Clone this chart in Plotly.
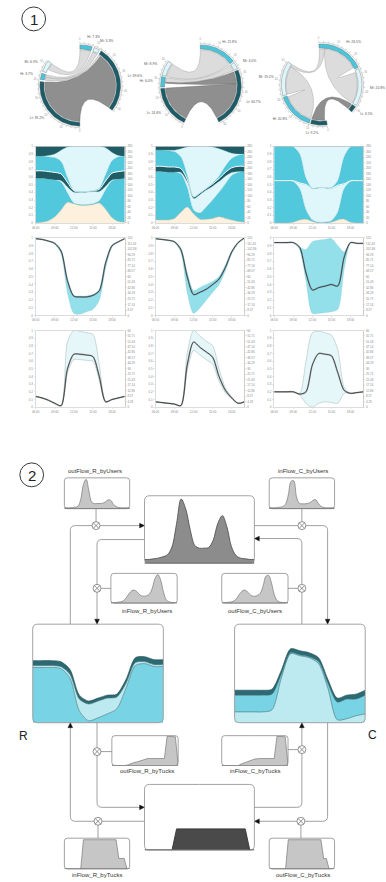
import math
import plotly.graph_objects as go

W, H = 386, 882

# ======================= DATA =======================
hours = list(range(6, 21))
hour_ticks = [6, 9, 12, 15, 18]
hour_labels = ["06:00", "09:00", "12:00", "15:00", "18:00"]

# ---- chord diagrams (segment shares in %) ----
seg_names = ["Hi", "Mi", "Lt", "Lt", "Hi", "Mi"]
chord1_values = [7.3, 3.3, 39.6, 39.2, 3.7, 6.9]
chord2_values = [21.8, 4.0, 34.7, 24.6, 6.0, 8.9]
chord3_values = [26.5, 20.8, 3.5, 9.2, 20.8, 19.2]
# flows: (source segment, target segment, share at source, share at target)
chord1_flows = [(0, 5, 7.3, 4.5), (1, 4, 3.3, 1.8), (2, 4, 1.5, 1.9), (2, 3, 38.1, 39.2)]
chord1_kinds = ["light", "light", "light", "dark"]
chord2_flows = [(0, 5, 21.8, 8.9), (1, 4, 4.0, 3.0), (2, 4, 8.0, 0.6), (2, 3, 26.7, 24.6)]
chord2_kinds = ["light", "light", "dark", "dark"]
chord3_flows = [(0, 5, 3.5, 1.6), (0, 1, 22.0, 19.5), (4, 5, 20.0, 17.4), (2, 3, 3.5, 8.0)]
chord3_kinds = ["light", "light", "light", "dark"]

# ---- stacked share panels ----
st1_peach = [0.00, 0.01, 0.03, 0.08, 0.17, 0.27, 0.25, 0.23, 0.23, 0.24, 0.26, 0.18, 0.07, 0.02, 0.01]
st1_tealA = [0.58, 0.57, 0.54, 0.48, 0.36, 0.12, 0.01, 0.01, 0.01, 0.01, 0.03, 0.25, 0.48, 0.55, 0.57]
st1_lightA = [0.00, 0.00, 0.00, 0.00, 0.02, 0.08, 0.14, 0.16, 0.16, 0.16, 0.12, 0.05, 0.01, 0.00, 0.00]
st1_darkA = [0.10, 0.10, 0.10, 0.10, 0.09, 0.06, 0.02, 0.01, 0.01, 0.01, 0.03, 0.07, 0.09, 0.10, 0.10]
st1_tealB = [0.19, 0.19, 0.19, 0.19, 0.16, 0.06, 0.00, 0.00, 0.00, 0.00, 0.01, 0.08, 0.16, 0.19, 0.19]
st1_lightB = [0.00, 0.00, 0.02, 0.05, 0.15, 0.40, 0.58, 0.59, 0.59, 0.58, 0.55, 0.35, 0.11, 0.02, 0.00]
st1_darkB = [0.13, 0.13, 0.12, 0.10, 0.05, 0.01, 0.00, 0.00, 0.00, 0.00, 0.00, 0.02, 0.08, 0.12, 0.13]

st2_peach = [0.04, 0.04, 0.04, 0.06, 0.14, 0.21, 0.12, 0.05, 0.05, 0.06, 0.08, 0.06, 0.04, 0.02, 0.01]
st2_tealA = [0.63, 0.63, 0.62, 0.60, 0.50, 0.25, 0.05, 0.08, 0.16, 0.24, 0.32, 0.45, 0.58, 0.64, 0.66]
st2_lightA = [0.00, 0.00, 0.00, 0.00, 0.02, 0.08, 0.15, 0.24, 0.22, 0.18, 0.14, 0.10, 0.04, 0.01, 0.00]
st2_darkA = [0.07, 0.07, 0.07, 0.07, 0.05, 0.03, 0.02, 0.02, 0.02, 0.03, 0.04, 0.05, 0.06, 0.07, 0.07]
st2_tealB = [0.21, 0.21, 0.21, 0.20, 0.15, 0.05, 0.00, 0.00, 0.00, 0.01, 0.03, 0.08, 0.12, 0.14, 0.16]
st2_lightB = [0.00, 0.00, 0.01, 0.02, 0.11, 0.37, 0.66, 0.61, 0.55, 0.47, 0.36, 0.20, 0.07, 0.02, 0.00]
st2_darkB = [0.05, 0.05, 0.05, 0.05, 0.03, 0.01, 0.00, 0.00, 0.00, 0.01, 0.03, 0.06, 0.09, 0.10, 0.10]

st3_peach = [0.00, 0.00, 0.00, 0.01, 0.04, 0.05, 0.02, 0.00, 0.00, 0.01, 0.04, 0.05, 0.01, 0.00, 0.00]
st3_tealA = [0.55, 0.55, 0.55, 0.53, 0.41, 0.12, 0.02, 0.01, 0.01, 0.02, 0.10, 0.40, 0.53, 0.55, 0.55]
st3_lightA = [0.00, 0.00, 0.00, 0.01, 0.07, 0.33, 0.41, 0.45, 0.45, 0.42, 0.35, 0.06, 0.01, 0.00, 0.00]
st3_darkA = [0.005, 0.005, 0.005, 0.005, 0.005, 0.005, 0.005, 0.005, 0.005, 0.005, 0.005, 0.005, 0.005, 0.005, 0.005]
st3_tealB = [0.45, 0.45, 0.45, 0.44, 0.38, 0.08, 0.00, 0.00, 0.00, 0.01, 0.06, 0.35, 0.44, 0.45, 0.45]
st3_lightB = [0.00, 0.00, 0.00, 0.01, 0.10, 0.42, 0.55, 0.54, 0.54, 0.54, 0.45, 0.14, 0.01, 0.00, 0.00]
st3_darkB = [0.00, 0.00, 0.00, 0.00, 0.00, 0.00, 0.00, 0.00, 0.00, 0.00, 0.00, 0.00, 0.00, 0.00, 0.00]

# ---- speed-like line panels (row 3) ----
a1_mean = [0.99, 0.98, 0.96, 0.93, 0.83, 0.45, 0.25, 0.24, 0.24, 0.26, 0.32, 0.68, 0.90, 0.95, 0.99]
a1_low = [0.99, 0.98, 0.96, 0.92, 0.80, 0.30, 0.03, 0.02, 0.05, 0.08, 0.20, 0.62, 0.88, 0.95, 0.99]
a1_up = [0.99, 0.98, 0.96, 0.93, 0.84, 0.46, 0.26, 0.25, 0.25, 0.27, 0.33, 0.69, 0.90, 0.95, 0.99]
a2_mean = [0.99, 0.98, 0.97, 0.95, 0.85, 0.50, 0.27, 0.30, 0.34, 0.40, 0.47, 0.62, 0.82, 0.94, 1.00]
a2_low = [0.99, 0.98, 0.97, 0.94, 0.82, 0.30, 0.03, 0.10, 0.20, 0.30, 0.40, 0.58, 0.80, 0.93, 1.00]
a2_up = [0.99, 0.98, 0.97, 0.95, 0.86, 0.55, 0.32, 0.36, 0.40, 0.44, 0.50, 0.65, 0.83, 0.94, 1.00]
a3_mean = [0.94, 0.94, 0.94, 0.94, 0.88, 0.55, 0.33, 0.36, 0.38, 0.40, 0.38, 0.75, 0.94, 0.93, 0.93]
a3_low = [0.94, 0.94, 0.94, 0.94, 0.85, 0.45, 0.03, 0.03, 0.04, 0.05, 0.08, 0.60, 0.93, 0.93, 0.93]
a3_up = [0.94, 0.94, 0.94, 0.94, 0.88, 0.85, 0.95, 0.97, 0.98, 0.99, 0.90, 0.82, 0.94, 0.93, 0.93]

# ---- density-like line panels (row 4) ----
b1_mean = [0.14, 0.12, 0.09, 0.05, 0.02, 0.50, 0.69, 0.69, 0.68, 0.66, 0.40, 0.07, 0.10, 0.12, 0.14]
b1_low = [0.14, 0.12, 0.09, 0.05, 0.02, 0.45, 0.62, 0.62, 0.61, 0.60, 0.35, 0.06, 0.10, 0.12, 0.14]
b1_up = [0.14, 0.12, 0.09, 0.05, 0.02, 0.85, 1.00, 0.99, 0.97, 0.95, 0.55, 0.08, 0.10, 0.12, 0.14]
b2_mean = [0.07, 0.06, 0.05, 0.04, 0.02, 0.55, 0.85, 0.78, 0.72, 0.65, 0.40, 0.22, 0.12, 0.05, 0.07]
b2_low = [0.07, 0.06, 0.05, 0.04, 0.02, 0.48, 0.74, 0.68, 0.62, 0.56, 0.34, 0.19, 0.11, 0.05, 0.07]
b2_up = [0.07, 0.06, 0.05, 0.04, 0.02, 0.70, 1.00, 0.93, 0.86, 0.80, 0.50, 0.25, 0.13, 0.05, 0.07]
b3_mean = [0.20, 0.20, 0.20, 0.20, 0.17, 0.20, 0.55, 0.70, 0.69, 0.67, 0.45, 0.22, 0.18, 0.19, 0.20]
b3_low = [0.20, 0.20, 0.20, 0.20, 0.16, 0.05, 0.00, 0.05, 0.07, 0.06, 0.05, 0.18, 0.18, 0.19, 0.20]
b3_up = [0.20, 0.20, 0.20, 0.20, 0.18, 0.60, 0.97, 0.99, 0.97, 0.94, 0.75, 0.26, 0.18, 0.19, 0.20]

# ---- section 2: region composition ----
R_teal = [0.56, 0.56, 0.56, 0.55, 0.45, 0.12, 0.02, 0.05, 0.09, 0.14, 0.35, 0.58, 0.60, 0.57, 0.57]
R_light = [0.02, 0.02, 0.02, 0.02, 0.04, 0.12, 0.17, 0.17, 0.16, 0.12, 0.05, 0.03, 0.02, 0.02, 0.02]
R_dark = [0.05, 0.05, 0.05, 0.05, 0.05, 0.04, 0.03, 0.03, 0.03, 0.03, 0.04, 0.05, 0.05, 0.05, 0.05]
C_light = [0.11, 0.11, 0.11, 0.11, 0.13, 0.45, 0.70, 0.68, 0.66, 0.60, 0.35, 0.03, 0.04, 0.07, 0.09]
C_teal = [0.17, 0.17, 0.17, 0.17, 0.16, 0.04, 0.01, 0.01, 0.01, 0.02, 0.05, 0.18, 0.20, 0.17, 0.19]
C_dark = [0.05, 0.05, 0.05, 0.05, 0.05, 0.04, 0.04, 0.04, 0.04, 0.04, 0.04, 0.04, 0.04, 0.05, 0.05]

# ---- section 2: flows over the day ----
day_hours = list(range(25))
users_total = [0.06, 0.06, 0.07, 0.08, 0.10, 0.13, 0.25, 0.60, 0.97, 0.82, 0.50, 0.27, 0.23, 0.23, 0.24, 0.35, 0.60, 0.72, 0.55, 0.25, 0.12, 0.08, 0.07, 0.06, 0.06]
out_R_users = [0.03, 0.03, 0.03, 0.04, 0.05, 0.08, 0.30, 0.80, 0.97, 0.60, 0.22, 0.17, 0.17, 0.17, 0.18, 0.22, 0.29, 0.28, 0.15, 0.07, 0.04, 0.03, 0.03, 0.03, 0.03]
in_C_users = [0.03, 0.03, 0.03, 0.04, 0.05, 0.07, 0.15, 0.45, 0.90, 0.92, 0.40, 0.18, 0.16, 0.16, 0.17, 0.20, 0.27, 0.30, 0.18, 0.08, 0.04, 0.03, 0.03, 0.03, 0.03]
in_R_users = [0.02, 0.02, 0.03, 0.04, 0.06, 0.12, 0.25, 0.38, 0.45, 0.43, 0.33, 0.26, 0.24, 0.26, 0.32, 0.52, 0.85, 0.98, 0.80, 0.40, 0.12, 0.05, 0.03, 0.02, 0.02]
out_C_users = [0.02, 0.02, 0.03, 0.04, 0.06, 0.12, 0.25, 0.38, 0.45, 0.42, 0.32, 0.25, 0.24, 0.27, 0.35, 0.60, 0.92, 0.95, 0.70, 0.30, 0.10, 0.04, 0.03, 0.02, 0.02]
tucks_total = [0, 0, 0, 0, 0, 0, 0, 0.33, 0.33, 0.33, 0.33, 0.33, 0.33, 0.33, 0.33, 0.33, 0.33, 0.33, 0.33, 0.33, 0.33, 0.33, 0.33, 0, 0]
out_R_tucks = [0, 0, 0, 0, 0, 0, 0.03, 0.07, 0.10, 0.12, 0.15, 0.18, 0.22, 0.24, 0.24, 0.24, 0.24, 0.24, 0.24, 0.24, 1.0, 1.0, 1.0, 0.98, 0]
in_C_tucks = [0, 0, 0, 0, 0, 0, 0, 0.05, 0.09, 0.12, 0.15, 0.19, 0.22, 0.24, 0.24, 0.24, 0.24, 0.24, 0.24, 0.24, 1.0, 1.0, 1.0, 0.98, 0]
in_R_tucks = [0, 0, 0, 0, 0, 0, 0, 0.97, 0.97, 0.97, 0.97, 0.97, 0.97, 0.97, 0.97, 0.97, 0.97, 0.97, 0.97, 0.97, 0.35, 0.35, 0.35, 0, 0]
out_C_tucks = [0, 0, 0, 0, 0, 0, 0, 0.97, 0.97, 0.97, 0.97, 0.97, 0.97, 0.97, 0.97, 0.97, 0.97, 0.97, 0.97, 0.97, 0.35, 0.35, 0, 0, 0]

# ======================= FIGURE =======================
fig = go.Figure()
layout = dict(width=W, height=H, margin=dict(l=0, r=0, t=0, b=0), paper_bgcolor="white",
              plot_bgcolor="rgba(0,0,0,0)", showlegend=False)
shapes, annotations = [], []
counters = {"x": 0, "y": 0}


def _new(kind, lo, hi, rng, opts):
    counters[kind] += 1
    n = counters[kind]
    name = f"{kind}axis" if n == 1 else f"{kind}axis{n}"
    ref = kind if n == 1 else f"{kind}{n}"
    d = dict(domain=[lo, hi], range=rng, showgrid=False, zeroline=False, showticklabels=False,
             ticks="", showline=False, fixedrange=True)
    d.update(opts)
    layout[name] = d
    return ref, name


def axes(x0, y0, x1, y1, xr, yr, xo=None, yo=None):
    xref, xname = _new("x", x0 / W, x1 / W, xr, xo or {})
    yref, yname = _new("y", 1 - y1 / H, 1 - y0 / H, yr, yo or {})
    layout[xname]["anchor"] = yref
    layout[yname]["anchor"] = xref
    return xref, yref


def X(x):
    return x / W


def Y(y):
    return 1 - y / H


# ---------------- chord diagrams ----------------
R_OUT, R_SEG, R_IN = 1.0, 0.9, 0.88
SEG_COL = {"Hi": "#4dc4d9", "Mi": "#def5fa", "Lt": "#1d5c66"}
RIB_COL = {"light": ("#dcdcdc", "#9a9a9a"), "dark": ("#8f8f8f", "#666666")}


def pol(r, deg):
    t = math.radians(deg)
    return (r * math.sin(t), r * math.cos(t))


def arc(r, a0, a1):
    n = max(2, int(abs(a1 - a0) / 1.5) + 2)
    return [pol(r, a0 + (a1 - a0) * i / (n - 1)) for i in range(n)]


def bez(p0, p2, n=40):
    out = []
    for i in range(n):
        t = i / (n - 1)
        out.append(((1 - t) ** 2 * p0[0] + t * t * p2[0], (1 - t) ** 2 * p0[1] + t * t * p2[1]))
    return out


def poly_trace(pts, xr, yr, fill, line, width=0.4):
    return go.Scatter(x=[p[0] for p in pts] + [pts[0][0]], y=[p[1] for p in pts] + [pts[0][1]],
                      xaxis=xr, yaxis=yr, mode="lines", fill="toself", fillcolor=fill,
                      line=dict(color=line, width=width), hoverinfo="skip")


def chord(cx, cy, values, flows, kinds, start, gap_c, gap_f, pad):
    half = 58
    xr, yr = axes(cx - half, cy - half, cx + half, cy + half, [-1.42, 1.42], [-1.42, 1.42])
    avail = 360 - gap_c - gap_f - 4 * pad
    k = avail / sum(values)
    spans, a = [], start
    for i, v in enumerate(values):
        spans.append((a, a + v * k))
        a = a + v * k + (gap_c if i == 2 else gap_f if i == 5 else pad)
    cs = [s[0] for s in spans]
    ce = [s[1] for s in spans]
    for (s, t, vs, vt), kind in zip(flows, kinds):
        s0 = cs[s]; s1 = s0 + vs * k; cs[s] = s1
        t1 = ce[t]; t0 = t1 - vt * k; ce[t] = t0
        pts = (arc(R_IN, s0, s1) + bez(pol(R_IN, s1), pol(R_IN, t0)) +
               arc(R_IN, t0, t1) + bez(pol(R_IN, t1), pol(R_IN, s0)))
        fc, lc = RIB_COL[kind]
        fig.add_trace(poly_trace(pts, xr, yr, fc, lc, 0.4))
    for (a0, a1), nm in zip(spans, seg_names):
        pts = arc(R_OUT, a0, a1) + arc(R_SEG, a1, a0)
        fig.add_trace(poly_trace(pts, xr, yr, SEG_COL[nm], "#5a6a6c", 0.4))
    # outer tick ring
    tx, ty, nx, ny, nt = [], [], [], [], []
    for (h0, h1) in [(spans[0][0], spans[2][1]), (spans[3][0], spans[5][1])]:
        for p in arc(1.035, h0, h1):
            tx.append(p[0]); ty.append(p[1])
        tx.append(None); ty.append(None)
        j = 0
        while h0 + j * 2.5 * k <= h1 + 1e-6:
            ang = h0 + j * 2.5 * k
            p0, p1 = pol(1.035, ang), pol(1.075, ang)
            tx += [p0[0], p1[0], None]; ty += [p0[1], p1[1], None]
            if j % 4 == 0:
                q = pol(1.13, ang)
                nx.append(q[0]); ny.append(q[1]); nt.append(str(int(j * 2.5)))
            j += 1
    fig.add_trace(go.Scatter(x=tx, y=ty, xaxis=xr, yaxis=yr, mode="lines",
                             line=dict(color="#a8a8a8", width=0.5), hoverinfo="skip"))
    fig.add_trace(go.Scatter(x=nx, y=ny, xaxis=xr, yaxis=yr, mode="text", text=nt,
                             textfont=dict(size=2.6, color="#999", family="Liberation Sans"),
                             hoverinfo="skip", cliponaxis=False))
    lx, ly, lt, lp = [], [], [], []
    for (a0, a1), nm, v in zip(spans, seg_names, values):
        q = pol(1.2, (a0 + a1) / 2)
        lx.append(q[0]); ly.append(q[1]); lt.append(f"{nm}: {v:.1f}%")
        lp.append("middle right" if q[0] >= 0 else "middle left")
    fig.add_trace(go.Scatter(x=lx, y=ly, xaxis=xr, yaxis=yr, mode="text", text=lt, textposition=lp,
                             textfont=dict(size=3.4, color="#555", family="Liberation Sans"),
                             hoverinfo="skip", cliponaxis=False))


chord(77, 84, chord1_values, chord1_flows, chord1_kinds, -0.5, 53, 52, 3)
chord(199, 84, chord2_values, chord2_flows, chord2_kinds, -1, 51, 52, 2)
chord(321, 83, chord3_values, chord3_flows, chord3_kinds, -4, 40, 52, 2)

# ---------------- small-multiple panels ----------------
tick_font = dict(size=3, color="#8a8a8a", family="Liberation Sans")
frame = dict(showline=True, linecolor="#c4c4c4", linewidth=0.6, ticks="outside", ticklen=1.5,
             tickwidth=0.4, tickcolor="#c4c4c4", showticklabels=True, tickfont=tick_font)
row_y = [(145, 222), (237, 315), (330, 407)]
col_x = [(32, 122), (153, 243), (273, 363)]
right_ranges = [[0, 280], [0, 120], [0, 60]]


def panel(c, r):
    x0, x1 = col_x[c]
    y0, y1 = row_y[r]
    xo = dict(frame, mirror=True, tickvals=hour_ticks, ticktext=hour_labels)
    yo = dict(frame, mirror=True, dtick=0.1)
    xr, yr = axes(x0, y0, x1, y1, [6, 20], [0, 1], xo, yo)
    rr = right_ranges[r]
    yr2, _ = _new("y", 1 - y1 / H, 1 - y0 / H, rr,
                  dict(frame, overlaying=yr, side="right", anchor=xr, dtick=(rr[1] - rr[0]) / 14))
    fig.add_trace(go.Scatter(x=[hours[0]], y=[rr[0]], xaxis=xr, yaxis=yr2, mode="markers",
                             marker=dict(opacity=0, size=1), hoverinfo="skip"))
    return xr, yr


PEACH, TEAL, LIGHT, DARK = "#fdf0dc", "#52c8dc", "#dff6fb", "#1f5c66"
stack_sets = [
    (st1_peach, st1_tealA, st1_lightA, st1_darkA, st1_tealB, st1_lightB, st1_darkB),
    (st2_peach, st2_tealA, st2_lightA, st2_darkA, st2_tealB, st2_lightB, st2_darkB),
    (st3_peach, st3_tealA, st3_lightA, st3_darkA, st3_tealB, st3_lightB, st3_darkB),
]
layer_styles = [(PEACH, "#c9b89c", 0.4), (TEAL, "#3aa7b8", 0.3), (LIGHT, "#8fcfd9", 0.3),
                (DARK, "#ffffff", 0.9), (TEAL, "#3aa7b8", 0.3), (LIGHT, "#8fcfd9", 0.3),
                (DARK, "#1f5c66", 0.3)]
for c, series in enumerate(stack_sets):
    xr, yr = panel(c, 0)
    for i, (vals, (fc, lc, lw)) in enumerate(zip(series, layer_styles)):
        kw = dict(groupnorm="fraction") if i == 0 else {}
        fig.add_trace(go.Scatter(x=hours, y=vals, xaxis=xr, yaxis=yr, mode="lines",
                                 stackgroup=f"s{c}", fillcolor=fc,
                                 line=dict(color=lc, width=lw, shape="spline", smoothing=0.8),
                                 hoverinfo="skip", **kw))


def band_panel(c, r, low, up, mean, band, band_line):
    xr, yr = panel(c, r)
    fig.add_trace(go.Scatter(x=hours, y=low, xaxis=xr, yaxis=yr, mode="lines",
                             line=dict(color=band_line, width=0.5, shape="spline", smoothing=0.8),
                             hoverinfo="skip"))
    fig.add_trace(go.Scatter(x=hours, y=up, xaxis=xr, yaxis=yr, mode="lines", fill="tonexty",
                             fillcolor=band, line=dict(color=band_line, width=0.5, shape="spline", smoothing=0.8),
                             hoverinfo="skip"))
    fig.add_trace(go.Scatter(x=hours, y=mean, xaxis=xr, yaxis=yr, mode="lines",
                             line=dict(color="rgba(110,110,110,0.35)", width=1.8, shape="spline", smoothing=0.8),
                             hoverinfo="skip"))
    fig.add_trace(go.Scatter(x=hours, y=mean, xaxis=xr, yaxis=yr, mode="lines",
                             line=dict(color="#2a2a2a", width=0.8, shape="spline", smoothing=0.8),
                             hoverinfo="skip"))


band_panel(0, 1, a1_low, a1_up, a1_mean, "#93dfea", "#8fd3dd")
band_panel(1, 1, a2_low, a2_up, a2_mean, "#93dfea", "#8fd3dd")
band_panel(2, 1, a3_low, a3_up, a3_mean, "#93dfea", "#8fd3dd")
band_panel(0, 2, b1_low, b1_up, b1_mean, "#e6f7fa", "#9fb4b8")
band_panel(1, 2, b2_low, b2_up, b2_mean, "#e6f7fa", "#9fb4b8")
band_panel(2, 2, b3_low, b3_up, b3_mean, "#e6f7fa", "#9fb4b8")

# ---------------- section 2 charts ----------------
def region_box(x0, y0, x1, y1, layers):
    xr, yr = axes(x0, y0, x1, y1, [6, 20], [0, 1])
    for i, (vals, fc, lc) in enumerate(layers):
        fig.add_trace(go.Scatter(x=hours, y=vals, xaxis=xr, yaxis=yr, mode="lines",
                                 stackgroup=f"r{x0}", fillcolor=fc,
                                 line=dict(color=lc, width=0.6, shape="spline", smoothing=0.8),
                                 hoverinfo="skip"))


region_box(29, 625, 161, 724, [(R_teal, "#78d4e5", "#3f6f74"), (R_light, "#bde9f1", "#3f6f74"),
                              (R_dark, "#2c6a73", "#234f55")])
region_box(233, 625, 365, 724, [(C_light, "#bde9f1", "#3f6f74"), (C_teal, "#78d4e5", "#3f6f74"),
                               (C_dark, "#2c6a73", "#234f55")])


def flow_box(x0, y0, x1, y1, vals, fc, lc, shape, lw=0.7):
    xr, yr = axes(x0, y0, x1, y1, [0, 24], [0, 1.02])
    fig.add_trace(go.Scatter(x=day_hours, y=vals, xaxis=xr, yaxis=yr, mode="lines", fill="tozeroy",
                             fillcolor=fc, line=dict(color=lc, width=lw, shape=shape),
                             hoverinfo="skip"))
    fig.add_trace(go.Scatter(x=[0, 24], y=[0, 0], xaxis=xr, yaxis=yr, mode="lines",
                             line=dict(color="#555", width=1.2), hoverinfo="skip"))


flow_box(142, 496, 253, 564, users_total, "#8c8c8c", "#555555", "spline", 0.9)
flow_box(142, 786, 253, 852, tucks_total, "#4a4a4a", "#333333", "linear", 0.9)
flow_box(61, 478, 127, 509, out_R_users, "#c6c6c6", "#7a7a7a", "spline")
flow_box(268, 478, 334, 509, in_C_users, "#c6c6c6", "#7a7a7a", "spline")
flow_box(108, 574, 175, 604, in_R_users, "#c6c6c6", "#7a7a7a", "spline")
flow_box(220, 574, 287, 604, out_C_users, "#c6c6c6", "#7a7a7a", "spline")
flow_box(109, 737, 176, 767, out_R_tucks, "#c6c6c6", "#7a7a7a", "linear")
flow_box(220, 737, 287, 767, in_C_tucks, "#c6c6c6", "#7a7a7a", "linear")
flow_box(61, 840, 127, 871, in_R_tucks, "#c6c6c6", "#7a7a7a", "linear")
flow_box(268, 840, 334, 871, out_C_tucks, "#c6c6c6", "#7a7a7a", "linear")

# ---------------- diagram decorations ----------------
GRAY = "#a0a0a0"


def rpath(pts, r=5):
    d = f"M {X(pts[0][0])},{Y(pts[0][1])}"
    for i in range(1, len(pts) - 1):
        (xa, ya), (xb, yb), (xc, yc) = pts[i - 1], pts[i], pts[i + 1]
        l1 = math.hypot(xb - xa, yb - ya)
        l2 = math.hypot(xc - xb, yc - yb)
        rr = min(r, l1 / 2, l2 / 2)
        p1 = (xb - (xb - xa) / l1 * rr, yb - (yb - ya) / l1 * rr)
        p2 = (xb + (xc - xb) / l2 * rr, yb + (yc - yb) / l2 * rr)
        d += f" L {X(p1[0])},{Y(p1[1])} Q {X(xb)},{Y(yb)} {X(p2[0])},{Y(p2[1])}"
    d += f" L {X(pts[-1][0])},{Y(pts[-1][1])}"
    return d


def wire(pts, r=5):
    shapes.append(dict(type="path", path=rpath(pts, r), xref="paper", yref="paper",
                       line=dict(color=GRAY, width=1), fillcolor="rgba(0,0,0,0)", layer="below"))


def arrow(x, y, d, L=5, w=2.4):
    if d == "r":
        pts = [(x, y), (x - L, y - w), (x - L, y + w)]
    elif d == "l":
        pts = [(x, y), (x + L, y - w), (x + L, y + w)]
    elif d == "d":
        pts = [(x, y), (x - w, y - L), (x + w, y - L)]
    else:
        pts = [(x, y), (x - w, y + L), (x + w, y + L)]
    path = "M " + " L ".join(f"{X(a)},{Y(b)}" for a, b in pts) + " Z"
    shapes.append(dict(type="path", path=path, xref="paper", yref="paper",
                       fillcolor="#111", line=dict(color="#111", width=0.4)))


def otimes(x, y, r=4):
    shapes.append(dict(type="circle", xref="paper", yref="paper", x0=X(x - r), x1=X(x + r),
                       y0=Y(y + r), y1=Y(y - r), fillcolor="white", line=dict(color="#777", width=0.8)))
    c = r * 0.68
    path = (f"M {X(x - c)},{Y(y - c)} L {X(x + c)},{Y(y + c)} "
            f"M {X(x - c)},{Y(y + c)} L {X(x + c)},{Y(y - c)}")
    shapes.append(dict(type="path", path=path, xref="paper", yref="paper",
                       line=dict(color="#777", width=0.8)))


def frame_box(x0, y0, x1, y1, r=4):
    pts = [((x0 + x1) / 2, y0), (x1, y0), (x1, y1), (x0, y1), (x0, y0), ((x0 + x1) / 2, y0)]
    shapes.append(dict(type="path", path=rpath(pts, r) + " Z", xref="paper", yref="paper",
                       line=dict(color="#8c8c8c", width=0.8), fillcolor="rgba(0,0,0,0)"))


# wires
wire([(93, 509), (93, 526)])
wire([(67, 625), (67, 526), (138, 526)])
wire([(142, 540), (94, 540), (94, 621)])
wire([(94, 589), (108, 589)])
wire([(301, 509), (301, 526)])
wire([(253, 526), (327, 526), (327, 621)])
wire([(301, 625), (301, 539), (257, 539)])
wire([(287, 589), (301, 589)])
wire([(67, 728), (67, 823), (142, 823)])
wire([(94, 724), (94, 809), (138, 809)])
wire([(94, 753), (109, 753)])
wire([(95, 823), (95, 840)])
wire([(301, 728), (301, 809), (253, 809)])
wire([(327, 724), (327, 823), (257, 823)])
wire([(287, 751), (301, 751)])
wire([(300, 823), (300, 840)])

arrow(142, 526, "r"); arrow(94, 625, "d"); arrow(327, 625, "d"); arrow(253, 539, "l")
arrow(67, 724, "u"); arrow(142, 809, "r"); arrow(301, 724, "u"); arrow(253, 823, "l")

for (x, y) in [(93, 526), (94, 589), (301, 526), (301, 589), (94, 753), (95, 823), (301, 751), (300, 823)]:
    otimes(x, y)

for b in [(142, 496, 253, 564, 5), (142, 786, 253, 852, 5), (29, 625, 161, 724, 5), (233, 625, 365, 724, 5),
          (61, 478, 127, 509, 3), (268, 478, 334, 509, 3), (108, 574, 175, 604, 3), (220, 574, 287, 604, 3),
          (109, 737, 176, 767, 3), (220, 737, 287, 767, 3), (61, 840, 127, 871, 3), (268, 840, 334, 871, 3)]:
    frame_box(*b)


def note(x, y, t, font):
    annotations.append(dict(x=X(x), y=Y(y), xref="paper", yref="paper", text=t, showarrow=False,
                            xanchor="center", yanchor="middle", font=font))


# numbered circles
for (cx, cy, t) in [(30, 17, "1"), (28, 475, "2")]:
    shapes.append(dict(type="circle", xref="paper", yref="paper", x0=X(cx - 12), x1=X(cx + 12),
                       y0=Y(cy + 12), y1=Y(cy - 12), line=dict(color="#222", width=0.9)))
    note(cx, cy + 0.5, t, dict(size=15, color="#222", family="Liberation Sans"))

lab_font = dict(size=6, color="#333", family="Liberation Sans")
for (x, y, t) in [(92, 471, "outFlow_R_byUsers"), (302, 471, "inFlow_C_byUsers"),
                  (144, 612, "inFlow_R_byUsers"), (254, 612, "outFlow_C_byUsers"),
                  (144, 773, "outFlow_R_byTucks"), (254, 773, "inFlow_C_byTucks"),
                  (94, 877, "inFlow_R_byTucks"), (302, 877, "outFlow_C_byTucks")]:
    note(x, y, t, lab_font)
note(20, 737, "R", dict(size=12, color="#222", family="Liberation Sans"))
note(372, 736, "C", dict(size=12, color="#222", family="Liberation Sans"))

layout["shapes"] = shapes
layout["annotations"] = annotations
fig.update_layout(**layout)
fig.write_html("out.html", config={"displayModeBar": False, "staticPlot": True},
               post_script="document.body.style.margin='0';document.body.style.overflow='hidden';")
